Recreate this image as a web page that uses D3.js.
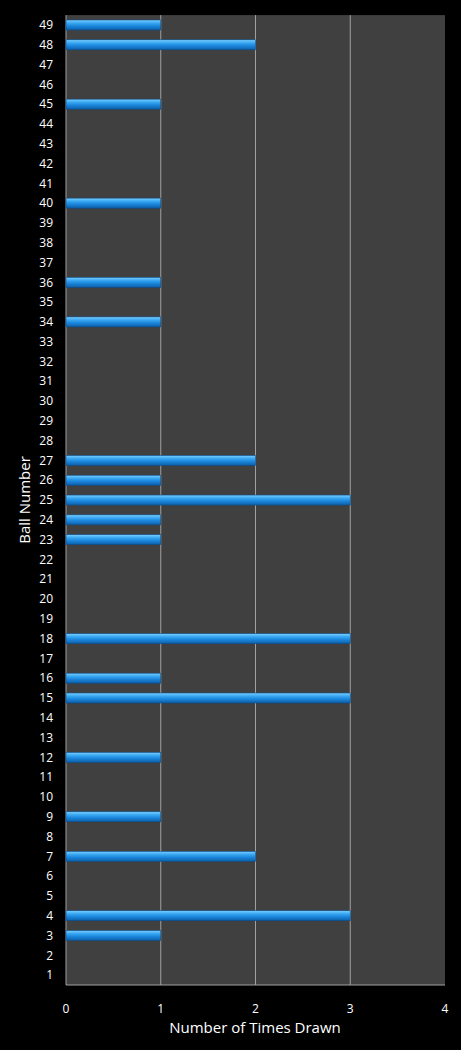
<!DOCTYPE html>
<html><head><meta charset="utf-8">
<script src="https://cdn.jsdelivr.net/npm/d3@7"></script>
<style>body{margin:0;background:#000;}svg{display:block;}</style>
</head><body>
<svg id="c" width="461" height="1050"></svg>
<script>
const balls = d3.range(1, 50);
const drawnBalls = [3,4,7,9,12,15,16,18,23,24,25,26,27,34,36,40,45,48,49];
const drawnCounts = [1,3,2,1,1,3,1,3,1,1,3,1,2,1,1,1,1,2,1];
const xTicks = [0,1,2,3,4];
const counts = new Map(drawnBalls.map((b,i)=>[b,drawnCounts[i]]));
const data = balls.map(b=>({b, v: counts.get(b)||0}));

const svg = d3.select("#c");
const L=66, R=445, T=15.1, B=985;
const x = d3.scaleLinear().domain([0,4]).range([L,R]);
const y = d3.scaleBand().domain(balls.slice().reverse()).range([T,B]);

const defs = svg.append("defs");
const g = defs.append("linearGradient").attr("id","bg").attr("x1",0).attr("y1",0).attr("x2",0).attr("y2",1);
[[0,"#7fd0ff"],[0.3,"#3aa8f2"],[0.6,"#1b86dc"],[1,"#0d5fa8"]].forEach(([o,c])=>g.append("stop").attr("offset",o).attr("stop-color",c));

svg.append("rect").attr("x",L).attr("y",T).attr("width",R-L).attr("height",B-T).attr("fill","#404040");
svg.append("g").selectAll("line").data(xTicks.slice(1,-1)).join("line")
  .attr("x1",d=>x(d)).attr("x2",d=>x(d)).attr("y1",T).attr("y2",B).attr("stroke","#a0a0a0").attr("stroke-width",1);
svg.append("line").attr("x1",L).attr("x2",R).attr("y1",B).attr("y2",B).attr("stroke","#a0a0a0");
svg.append("line").attr("x1",L).attr("x2",L).attr("y1",T).attr("y2",B).attr("stroke","#a0a0a0");

const bh = 10;
svg.append("g").selectAll("rect").data(data.filter(d=>d.v>0)).join("rect")
  .attr("x",x(0)).attr("y",d=>y(d.b)+y.bandwidth()/2-bh/2)
  .attr("width",d=>x(d.v)-x(0)).attr("height",bh)
  .attr("fill","url(#bg)").attr("stroke","#0a4f8f").attr("stroke-width",0.6);

svg.append("g").selectAll("text").data(balls).join("text")
  .attr("x",53).attr("y",d=>y(d)+y.bandwidth()/2).attr("dy","0.35em")
  .attr("text-anchor","end").attr("fill","#fff").attr("font-family","Open Sans, sans-serif").attr("font-size",12)
  .text(d=>d);
svg.append("g").selectAll("text").data(xTicks).join("text")
  .attr("x",d=>x(d)).attr("y",1009).attr("dy","0.35em")
  .attr("text-anchor","middle").attr("fill","#fff").attr("font-family","Open Sans, sans-serif").attr("font-size",12)
  .text(d=>d);
svg.append("text").attr("x",255).attr("y",1033).attr("text-anchor","middle").attr("fill","#fff")
  .attr("font-family","Open Sans, sans-serif").attr("font-size",15).text("Number of Times Drawn");
svg.append("text").attr("transform","translate(30,500) rotate(-90)").attr("text-anchor","middle").attr("fill","#fff")
  .attr("font-family","Open Sans, sans-serif").attr("font-size",15).text("Ball Number");
</script>
</body></html>
